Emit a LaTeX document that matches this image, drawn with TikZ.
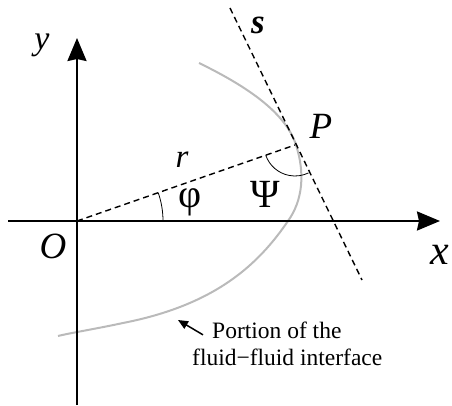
\documentclass[tikz,border=0pt]{standalone}
\usepackage{fontspec}
\setmainfont{Liberation Serif}
\usetikzlibrary{arrows.meta}
\begin{document}
\begin{tikzpicture}[x=1pt,y=1pt,
  axis/.style={line width=2.3pt,-{Stealth[length=23pt,width=19pt,inset=2pt]}},
  dashline/.style={line width=1.4pt,dash pattern=on 6pt off 4pt},
  iface/.style={line width=2pt,color=black!27},
  anglearc/.style={line width=0.8pt},
  annot/.style={line width=1.5pt,-{Triangle[length=10pt,width=8.5pt]}},
  lbl/.style={inner sep=0pt},
  big/.style={font=\fontsize{37}{37}\selectfont\itshape},
  note/.style={inner sep=0pt,anchor=base west,font=\fontsize{23.5}{23.5}\selectfont}]
\useasboundingbox (0,0) rectangle (452,405);
\coordinate (O) at (77,184);
\coordinate (xs) at (8,184);
\coordinate (xe) at (440,184);
\coordinate (ys) at (77,0);
\coordinate (ye) at (77,367);
\coordinate (P) at (295,260);
\coordinate (s1) at (230,397);
\coordinate (s2) at (362,125);
% interface
\draw[iface] (199,342) .. controls (240,322) and (285,295) .. (296,260)
  .. controls (305,232) and (303,205) .. (288,184)
  .. controls (258,140) and (215,100) .. (123,82)
  .. controls (95,76) and (70,72) .. (58,69);
% axes
\draw[axis] (xs) -- (xe);
\draw[axis] (ys) -- (ye);
% dashed lines
\draw[dashline] (O) -- (P);
\draw[dashline] (s1) -- (s2);
% angles
\draw[anglearc] ([shift={(0:86)}]O) arc[start angle=0,end angle=19.2,radius=86];
\draw[anglearc] ([shift={(199.2:31)}]P) arc[start angle=199.2,end angle=295.9,radius=31];
% labels
\node[lbl,big] (Olab) at (53,159) {O};
\node[lbl,big] (Plab) at (321,279) {P};
\node[lbl,font=\fontsize{42}{42}\selectfont\itshape] (xlab) at (440,150) {x};
\node[lbl,font=\fontsize{34}{34}\selectfont\itshape] (ylab) at (42,360) {y};
\node[lbl,font=\fontsize{33}{33}\selectfont\itshape] (rlab) at (182,245) {r};
\node[lbl,font=\fontsize{35}{35}\selectfont\bfseries\itshape] (slab) at (258,380) {s};
\node[lbl,font=\fontsize{40}{40}\selectfont] (philab) at (190,203) {φ};
\node[lbl,font=\fontsize{40}{40}\selectfont] (psilab) at (265,211) {Ψ};
% annotation
\node[note] (ann1) at (212,67) {Portion of the};
\node[note] (ann2) at (192,40) {fluid−fluid interface};
\coordinate (tip) at (178,85);
\draw[annot] ([shift={(-9pt,-5pt)}]ann1.west) -- (tip);
\end{tikzpicture}
\end{document}
